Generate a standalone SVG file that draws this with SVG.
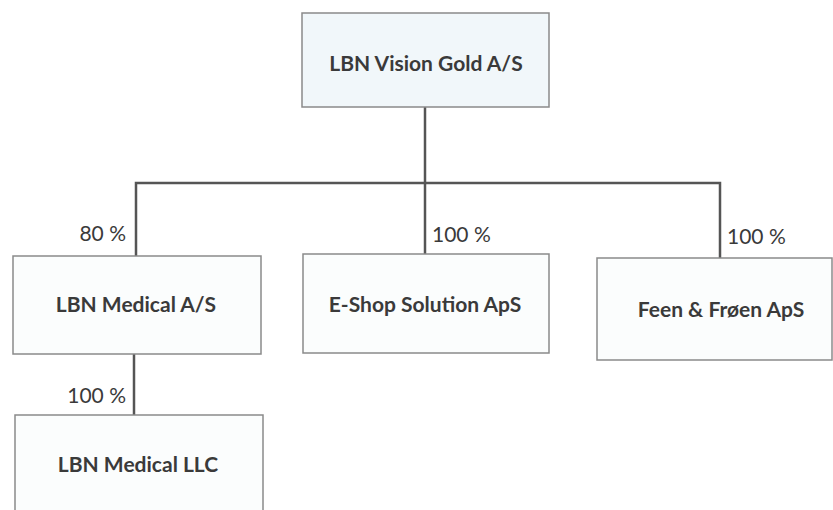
<svg xmlns="http://www.w3.org/2000/svg" width="833" height="510" viewBox="0 0 833 510">
<style>
.box{fill:#fbfdfd;stroke:#8a8a8a;stroke-width:1.5}
.top{fill:#f1f7fa}
.lbl{font-family:Lato,"Open Sans","Liberation Sans",sans-serif;font-size:21px;font-weight:bold;fill:#3a3a3a;text-anchor:middle}
.pct{font-family:Lato,"Open Sans","Liberation Sans",sans-serif;font-size:21px;fill:#3a3a3a}
.conn{stroke:#555;stroke-width:2.5;fill:none}
</style>
<rect width="833" height="510" fill="#ffffff"/>
<g id="connectors">
<path class="conn" d="M425,107 V183"/>
<path class="conn" d="M136,256 V183 H720 V258"/>
<path class="conn" d="M425,183 V254"/>
<path class="conn" d="M134,354 V415"/>
</g>
<g id="n-vision">
<rect class="box top" x="302" y="13" width="247" height="94"/>
<text class="lbl" x="426" y="71">LBN Vision Gold A/S</text>
</g>
<g id="n-medical">
<rect class="box" x="13" y="256" width="248" height="98"/>
<text class="lbl" x="136" y="312">LBN Medical A/S</text>
<text class="pct" x="126" y="241" text-anchor="end">80 %</text>
</g>
<g id="n-eshop">
<rect class="box" x="303" y="254" width="246" height="99"/>
<text class="lbl" x="425" y="312">E-Shop Solution ApS</text>
<text class="pct" x="432" y="242">100 %</text>
</g>
<g id="n-feen">
<rect class="box" x="597" y="258" width="235" height="102"/>
<text class="lbl" x="721" y="317">Feen &amp; Frøen ApS</text>
<text class="pct" x="727" y="244">100 %</text>
</g>
<g id="n-llc">
<rect class="box" x="15" y="415" width="248" height="100"/>
<text class="lbl" x="138" y="472">LBN Medical LLC</text>
<text class="pct" x="126" y="403" text-anchor="end">100 %</text>
</g>
</svg>
